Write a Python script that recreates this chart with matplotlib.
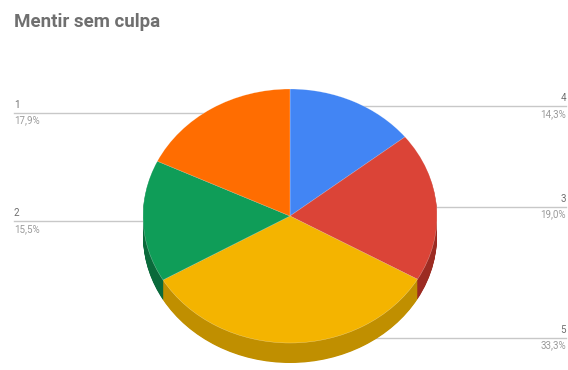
import matplotlib.pyplot as plt
import numpy as np

# slice data (clockwise from 12 o'clock)
labels = ['4', '3', '5', '2', '1']
values = [14.3, 19.0, 33.3, 15.5, 17.9]
pct_labels = ['14,3%', '19,0%', '33,3%', '15,5%', '17,9%']
colors = ['#4285F4', '#DB4437', '#F4B400', '#0F9D58', '#FF6D01']
side_colors = ['#2a5db0', '#9c2b22', '#c08f00', '#0a6a3b', '#b04a00']

title = 'Mentir sem culpa'

fig = plt.figure(figsize=(5.68, 3.70), dpi=100)
ax = fig.add_axes([0, 0, 1, 1])

# pie radius 1 -> 147 px wide, 127 px tall, centre at (290, 216) px
rx, ry = 147.0, 127.0
depth = 20.0 / ry
n_layers = 30

# side wall: stack of darker pies
for k in range(n_layers, 0, -1):
    ax.pie(values, colors=side_colors, startangle=90, counterclock=False,
           center=(0, -depth * k / n_layers), radius=1,
           wedgeprops=dict(linewidth=0))
# top face
ax.pie(values, colors=colors, startangle=90, counterclock=False,
       wedgeprops=dict(linewidth=0.3, edgecolor='#ffffff80'))

ax.set_aspect('auto')
ax.set_xlim(-290 / rx, 278 / rx)
ax.set_ylim(-154 / ry, 216 / ry)
ax.axis('off')

# leader lines + labels
x_left, x_right = (14 - 290) / rx, (566 - 290) / rx
cum = np.cumsum([0] + values[:-1])
for lab, val, pct, c0 in zip(labels, values, pct_labels, cum):
    mid = np.deg2rad(90 - (c0 + val / 2) * 3.6)
    px, py = 0.96 * np.cos(mid), 0.96 * np.sin(mid)
    if np.cos(mid) < 0:
        xe, ha = x_left, 'left'
    else:
        xe, ha = x_right, 'right'
    ax.plot([px, xe], [py, py], color='#c8c8c8', lw=1.0, zorder=0)
    ax.annotate(lab, (xe, py), xytext=(0, 2), textcoords='offset points',
                ha=ha, va='bottom', fontsize=7, color='#6f6f6f', family='Roboto')
    ax.annotate(pct, (xe, py), xytext=(0, -2), textcoords='offset points',
                ha=ha, va='top', fontsize=7, color='#9a9a9a', family='Roboto')

fig.text(14 / 568, 1 - 22 / 370, title, ha='left', va='center',
         fontsize=13.5, fontweight='bold', color='#6f6f6f', family='Roboto')

plt.savefig('out.png', dpi=100)
